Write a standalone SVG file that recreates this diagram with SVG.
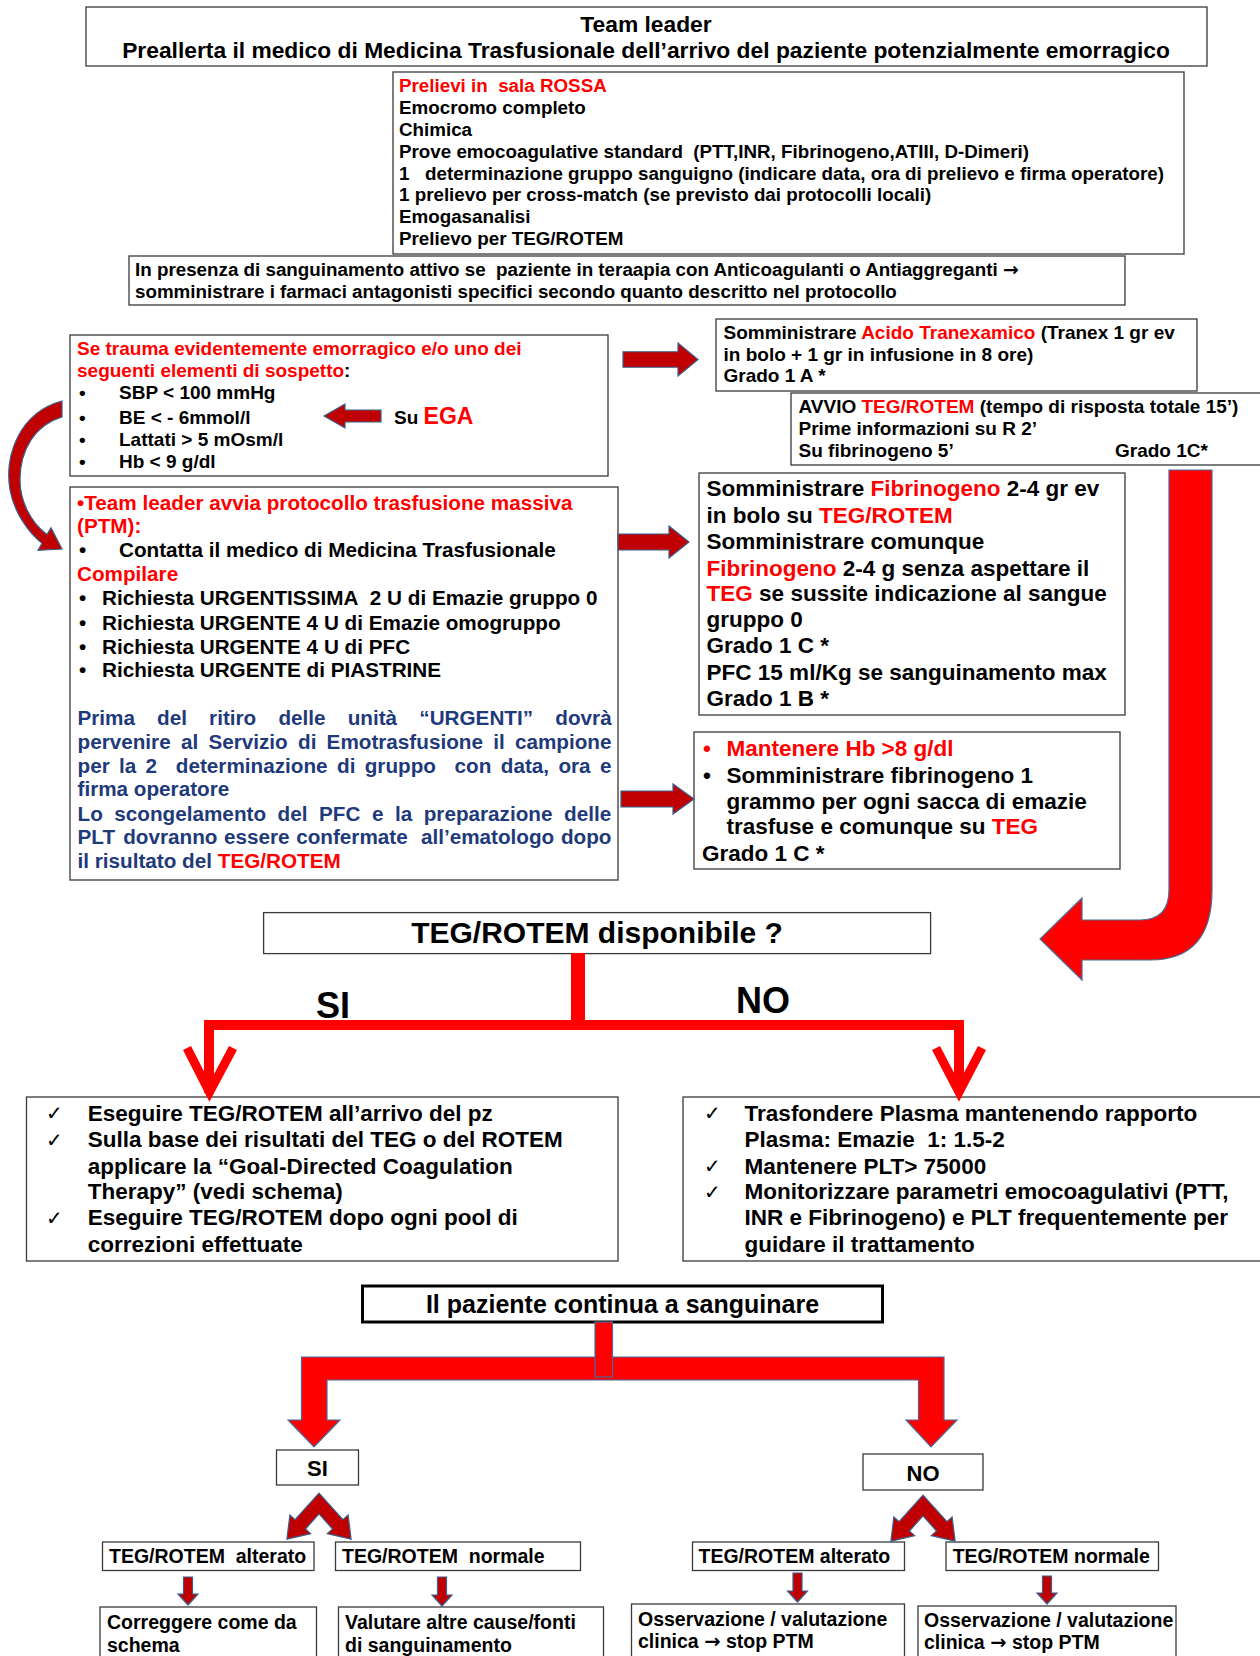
<svg xmlns="http://www.w3.org/2000/svg" width="1260" height="1656" viewBox="0 0 1260 1656">
<style>
.box{fill:#fff;stroke:#3a3a3a;stroke-width:1.3}
.t{font-family:"Liberation Sans",Arial,sans-serif;font-weight:bold;fill:#000}
.r{fill:#ff0000}
.b{fill:#1f3a7a}
.ar{font-family:"DejaVu Sans",sans-serif;font-weight:bold}
.ck{font-family:"DejaVu Sans",sans-serif;font-size:20px;fill:#000}
.da{fill:#c00000;stroke:#3b5f8f;stroke-width:1.2}
.ra{fill:#ff0000;stroke:#4a6a9a;stroke-width:1.2}
.ln{fill:none;stroke:#ff0000;stroke-linejoin:miter}
</style>
<rect width="1260" height="1656" fill="#fff"/>

<g id="n-teamleader">
<rect class="box" x="86" y="7" width="1121" height="59"/>
<text class="t" x="646" y="32" font-size="22.8" text-anchor="middle">Team leader</text>
<text class="t" x="646" y="58" font-size="22.8" text-anchor="middle">Preallerta il medico di Medicina Trasfusionale dell’arrivo del paziente potenzialmente emorragico</text>
</g>

<g id="n-prelievi">
<rect class="box" x="393" y="72" width="791" height="182"/>
<g class="t" font-size="18.8">
<text x="399" y="92" class="r">Prelievi in&#160; sala ROSSA</text>
<text x="399" y="114">Emocromo completo</text>
<text x="399" y="135.5">Chimica</text>
<text x="399" y="157.5">Prove emocoagulative standard&#160; (PTT,INR, Fibrinogeno,ATIII, D-Dimeri)</text>
<text x="399" y="179.5">1&#160;&#160; determinazione gruppo sanguigno (indicare data, ora di prelievo e firma operatore)</text>
<text x="399" y="201">1 prelievo per cross-match (se previsto dai protocolli locali)</text>
<text x="399" y="223">Emogasanalisi</text>
<text x="399" y="245">Prelievo per TEG/ROTEM</text>
</g>
</g>

<g id="n-presenza">
<rect class="box" x="129" y="256" width="996" height="49"/>
<g class="t" font-size="18.8">
<text x="135" y="276">In presenza di sanguinamento attivo se&#160; paziente in teraapia con Anticoagulanti o Antiaggreganti <tspan class="ar">→</tspan></text>
<text x="135" y="298">somministrare i farmaci antagonisti specifici secondo quanto descritto nel protocollo</text>
</g>
</g>

<g id="n-trauma">
<rect class="box" x="70" y="335" width="538" height="141"/>
<g class="t" font-size="19">
<text x="77" y="355" class="r">Se trauma evidentemente emorragico e/o uno dei</text>
<text x="77" y="377"><tspan class="r">seguenti elementi di sospetto</tspan>:</text>
<text x="79" y="399">•</text><text x="119" y="399">SBP &lt; 100 mmHg</text>
<text x="79" y="423.5">•</text><text x="119" y="423.5">BE &lt; - 6mmol/l</text>
<text x="79" y="446">•</text><text x="119" y="446">Lattati &gt; 5 mOsm/l</text>
<text x="79" y="468">•</text><text x="119" y="468">Hb &lt; 9 g/dl</text>
<text x="394" y="424">Su <tspan class="r" font-size="23">EGA</tspan></text>
</g>
</g>

<g id="n-acido">
<rect class="box" x="716" y="319" width="481" height="72"/>
<g class="t" font-size="19">
<text x="723.5" y="339">Somministrare <tspan class="r">Acido Tranexamico</tspan> (Tranex 1 gr ev</text>
<text x="723.5" y="361">in bolo + 1 gr in infusione in 8 ore)</text>
<text x="723.5" y="382">Grado 1 A *</text>
</g>
</g>

<g id="n-avvio">
<rect class="box" x="791" y="393" width="470" height="72"/>
<g class="t" font-size="19">
<text x="798.5" y="413">AVVIO <tspan class="r">TEG/ROTEM</tspan> (tempo di risposta totale 15’)</text>
<text x="798.5" y="435">Prime informazioni su R 2’</text>
<text x="798.5" y="457">Su fibrinogeno 5’</text>
<text x="1115" y="457">Grado 1C*</text>
</g>
</g>

<g id="n-ptm">
<rect class="box" x="70" y="487" width="548" height="393"/>
<g class="t" font-size="20.7">
<text x="77" y="510" class="r">•Team leader avvia protocollo trasfusione massiva</text>
<text x="77" y="533" class="r">(PTM):</text>
<text x="79" y="557">•</text><text x="119" y="557">Contatta il medico di Medicina Trasfusionale</text>
<text x="77" y="581" class="r">Compilare</text>
<text x="79" y="605">•</text><text x="102" y="605">Richiesta URGENTISSIMA&#160; 2 U di Emazie gruppo 0</text>
<text x="79" y="629.5">•</text><text x="102" y="629.5">Richiesta URGENTE 4 U di Emazie omogruppo</text>
<text x="79" y="654">•</text><text x="102" y="654">Richiesta URGENTE 4 U di PFC</text>
<text x="79" y="677">•</text><text x="102" y="677">Richiesta URGENTE di PIASTRINE</text>
<text y="724.5" class="b"><tspan x="77.5">Prima</tspan><tspan x="157.1">del</tspan><tspan x="209.1">ritiro</tspan><tspan x="278.4">delle</tspan><tspan x="347.7">unità</tspan><tspan x="419.3">“URGENTI”</tspan><tspan x="555.3">dovrà</tspan></text>
<text y="749" class="b"><tspan x="77.5">pervenire</tspan><tspan x="180.9">al</tspan><tspan x="208.4">Servizio</tspan><tspan x="298">di</tspan><tspan x="326.6">Emotrasfusione</tspan><tspan x="493.2">il</tspan><tspan x="514.9">campione</tspan></text>
<text y="773" class="b"><tspan x="77.5">per</tspan><tspan x="119">la</tspan><tspan x="145.6">2</tspan><tspan x="175.8">determinazione</tspan><tspan x="337">di</tspan><tspan x="364.7">gruppo</tspan><tspan x="454.6">con</tspan><tspan x="500.8">data,</tspan><tspan x="558.4">ora</tspan><tspan x="600">e</tspan></text>
<text x="77.5" y="796" class="b">firma operatore</text>
<text y="820.7" class="b"><tspan x="77.5">Lo</tspan><tspan x="114.3">scongelamento</tspan><tspan x="277.6">del</tspan><tspan x="319">PFC</tspan><tspan x="371.9">e</tspan><tspan x="394.9">la</tspan><tspan x="423.7">preparazione</tspan><tspan x="564">delle</tspan></text>
<text y="844" class="b"><tspan x="77.5">PLT</tspan><tspan x="123.2">dovranno</tspan><tspan x="224">essere</tspan><tspan x="296.2">confermate</tspan><tspan x="420.9">all’ematologo</tspan><tspan x="560.9">dopo</tspan></text>
<text x="77.5" y="868" class="b">il risultato del <tspan class="r">TEG/ROTEM</tspan></text>
</g>
</g>

<g id="n-fibrinogeno">
<rect class="box" x="699" y="473" width="426" height="242"/>
<g class="t" font-size="22.5">
<text x="706.6" y="496">Somministrare <tspan class="r">Fibrinogeno</tspan> 2-4 gr ev</text>
<text x="706.6" y="523">in bolo su <tspan class="r">TEG/ROTEM</tspan></text>
<text x="706.6" y="549">Somministrare comunque</text>
<text x="706.6" y="575.6"><tspan class="r">Fibrinogeno</tspan> 2-4 g senza aspettare il</text>
<text x="706.6" y="601"><tspan class="r">TEG</tspan> se sussite indicazione al sangue</text>
<text x="706.6" y="627">gruppo 0</text>
<text x="706.6" y="652.7">Grado 1 C *</text>
<text x="706.6" y="680">PFC 15 ml/Kg se sanguinamento max</text>
<text x="706.6" y="705.5">Grado 1 B *</text>
</g>
</g>

<g id="n-mantenere">
<rect class="box" x="694" y="732" width="426" height="137"/>
<g class="t" font-size="22.5">
<text x="703" y="756" class="r">•</text><text x="726.6" y="756" class="r">Mantenere Hb &gt;8 g/dl</text>
<text x="703" y="782.6">•</text><text x="726.6" y="782.6">Somministrare fibrinogeno 1</text>
<text x="726.6" y="809">grammo per ogni sacca di emazie</text>
<text x="726.6" y="834.4">trasfuse e comunque su <tspan class="r">TEG</tspan></text>
<text x="702" y="861">Grado 1 C *</text>
</g>
</g>

<g id="n-teg-disp">
<rect class="box" x="263.6" y="912.6" width="667" height="41"/>
<text class="t" x="597" y="943" font-size="30" text-anchor="middle">TEG/ROTEM disponibile ?</text>
</g>

<g id="n-si-box">
<rect class="box" x="26.5" y="1097" width="591.5" height="164"/>
<text class="ck" x="46" y="1120">✓</text>
<text class="ck" x="46" y="1146.5">✓</text>
<text class="ck" x="46" y="1224.5">✓</text>
<g class="t" font-size="22.5">
<text x="87.7" y="1120.6">Eseguire TEG/ROTEM all’arrivo del pz</text>
<text x="87.7" y="1147">Sulla base dei risultati del TEG o del ROTEM</text>
<text x="87.7" y="1173.5">applicare la “Goal-Directed Coagulation</text>
<text x="87.7" y="1199">Therapy” (vedi schema)</text>
<text x="87.7" y="1225">Eseguire TEG/ROTEM dopo ogni pool di</text>
<text x="87.7" y="1251.6">correzioni effettuate</text>
</g>
</g>

<g id="n-no-box">
<rect class="box" x="683" y="1097" width="590" height="164"/>
<text class="ck" x="704" y="1120">✓</text>
<text class="ck" x="704" y="1172.5">✓</text>
<text class="ck" x="704" y="1198.5">✓</text>
<g class="t" font-size="22.5">
<text x="744.6" y="1120.6">Trasfondere Plasma mantenendo rapporto</text>
<text x="744.6" y="1147">Plasma: Emazie&#160; 1: 1.5-2</text>
<text x="744.6" y="1173.5">Mantenere PLT&gt; 75000</text>
<text x="744.6" y="1199">Monitorizzare parametri emocoagulativi (PTT,</text>
<text x="744.6" y="1225">INR e Fibrinogeno) e PLT frequentemente per</text>
<text x="744.6" y="1251.6">guidare il trattamento</text>
</g>
</g>

<g id="n-continua">
<rect x="362.5" y="1286" width="520" height="36" fill="#fff" stroke="#000" stroke-width="3"/>
<text class="t" x="622.5" y="1313" font-size="25" text-anchor="middle">Il paziente continua a sanguinare</text>
</g>

<g id="n-si">
<rect class="box" x="276.5" y="1450" width="82" height="35"/>
<text class="t" x="317.5" y="1476" font-size="22" text-anchor="middle">SI</text>
</g>
<g id="n-no">
<rect class="box" x="863" y="1454" width="120" height="36"/>
<text class="t" x="923" y="1480.5" font-size="22" text-anchor="middle">NO</text>
</g>

<g id="n-alt1">
<rect class="box" x="102.5" y="1542" width="211.5" height="28.5"/>
<text class="t" x="109" y="1563" font-size="19.5">TEG/ROTEM&#160; alterato</text>
</g>
<g id="n-norm1">
<rect class="box" x="335.5" y="1542" width="245" height="28.5"/>
<text class="t" x="342" y="1563" font-size="19.5">TEG/ROTEM&#160; normale</text>
</g>
<g id="n-alt2">
<rect class="box" x="692.5" y="1542" width="212" height="28.5"/>
<text class="t" x="698.5" y="1563" font-size="19.5">TEG/ROTEM alterato</text>
</g>
<g id="n-norm2">
<rect class="box" x="946" y="1542" width="212.5" height="28.5"/>
<text class="t" x="952.7" y="1563" font-size="19.5">TEG/ROTEM normale</text>
</g>

<g id="n-corr">
<rect class="box" x="100" y="1607" width="216.5" height="70"/>
<text class="t" x="107" y="1629" font-size="19.5">Correggere come da</text>
<text class="t" x="107" y="1651.5" font-size="19.5">schema</text>
</g>
<g id="n-valut">
<rect class="box" x="338.5" y="1607" width="265" height="70"/>
<text class="t" x="345" y="1629" font-size="19.5">Valutare altre cause/fonti</text>
<text class="t" x="345" y="1651.5" font-size="19.5">di sanguinamento</text>
</g>
<g id="n-oss1">
<rect class="box" x="631.5" y="1604" width="273" height="70"/>
<text class="t" x="638" y="1625.5" font-size="19.5">Osservazione / valutazione</text>
<text class="t" x="638" y="1647.5" font-size="19.5">clinica <tspan class="ar">→</tspan> stop PTM</text>
</g>
<g id="n-oss2">
<rect class="box" x="918" y="1606" width="258" height="70"/>
<text class="t" x="924" y="1627" font-size="19.5">Osservazione / valutazione</text>
<text class="t" x="924" y="1649" font-size="19.5">clinica <tspan class="ar">→</tspan> stop PTM</text>
</g>

<g id="connectors">
<path class="da" d="M623 351.75 L678 351.75 L678 343 L698 359.5 L678 376 L678 367.25 L623 367.25 Z"/>
<path class="da" d="M618 534 L669 534 L669 526 L689 542 L669 558 L669 550 L618 550 Z"/>
<path class="da" d="M621 791 L673 791 L673 784 L694 799 L673 814 L673 807 L621 807 Z"/>
<path class="da" d="M381 410 L345 410 L345 404 L324 416 L345 428 L345 422 L381 422 Z"/>
<path class="da" d="M62 401 C20 412 4 455 10 490 C14 512 28 532 42 543.4 L38 550.3 L62 549 L51 527.7 L47 534.6 C30 522 20 500 20 480 C20 450 35 425 62 417 Z"/>
<path class="ra" d="M1169 470 L1212 470 L1212 890 Q1212 960 1150 960 L1082 960 L1082 980 L1040 939 L1082 898 L1082 920 L1140 920 Q1169 920 1169 890 Z"/>
<path class="ln" stroke-width="14" d="M578 953 L578 1025"/>
<path class="ln" stroke-width="10" d="M209 1093 L209 1025 L959 1025 L959 1093"/>
<path class="ln" stroke-width="9" d="M187 1048 L209.5 1092 L233 1048"/>
<path class="ln" stroke-width="9" d="M936 1048 L959 1092 L982 1048"/>
<text class="t" x="333" y="1018" font-size="36" text-anchor="middle">SI</text>
<text class="t" x="763" y="1013" font-size="36" text-anchor="middle">NO</text>
<path class="ra" d="M301.5 1357 L944 1357 L944 1420 L957 1420 L931 1447 L906 1420 L918.5 1420 L918.5 1380 L327 1380 L327 1420 L340 1420 L314 1447 L288 1420 L301.5 1420 Z"/>
<rect class="ra" x="595" y="1322" width="17.5" height="55"/>
<path class="da" transform="translate(319 1503.5)" d="M0 -10.45 L-23.93 16.12 L-29.13 11.43 L-32.1 35.66 L-8.33 30.17 L-13.53 25.48 L0 10.45 L13.53 25.48 L8.33 30.17 L32.1 35.66 L29.13 11.43 L23.93 16.12 Z"/>
<path class="da" transform="translate(923 1505.5)" d="M0 -10.45 L-23.93 16.12 L-29.13 11.43 L-32.1 35.66 L-8.33 30.17 L-13.53 25.48 L0 10.45 L13.53 25.48 L8.33 30.17 L32.1 35.66 L29.13 11.43 L23.93 16.12 Z"/>
<path class="da" d="M183.5 1577 L192.5 1577 L192.5 1594 L198 1594 L188 1605 L178 1594 L183.5 1594 Z"/>
<path class="da" d="M437.5 1577 L446.5 1577 L446.5 1595 L452 1595 L442 1606 L432 1595 L437.5 1595 Z"/>
<path class="da" d="M793 1573 L802 1573 L802 1591 L807.5 1591 L797.5 1602 L787.5 1591 L793 1591 Z"/>
<path class="da" d="M1042.5 1576 L1051.5 1576 L1051.5 1593 L1057 1593 L1047 1604 L1037 1593 L1042.5 1593 Z"/>
</g>
</svg>
